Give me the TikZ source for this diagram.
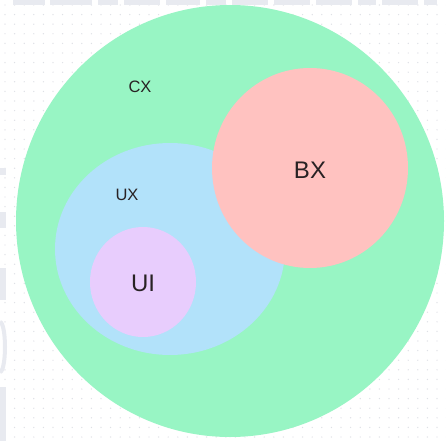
\documentclass[tikz,border=0pt]{standalone}
\usepackage{fontspec}
\setmainfont{Liberation Sans}
\usetikzlibrary{shapes.geometric}
\definecolor{cxfill}{RGB}{152,245,196}
\definecolor{uxfill}{RGB}{178,226,250}
\definecolor{bxfill}{RGB}{255,194,192}
\definecolor{uifill}{RGB}{232,205,253}
\definecolor{labelink}{RGB}{40,34,36}
\definecolor{griddot}{RGB}{222,224,230}
\definecolor{ghost}{RGB}{232,234,240}
\tikzset{
  area/.style={ellipse, draw=none, inner sep=0pt},
  smalllabel/.style={text=labelink, font=\fontsize{16.5}{19}\selectfont, inner sep=0pt},
  biglabel/.style={text=labelink, font=\fontsize{24}{28}\selectfont, inner sep=0pt},
}
\begin{document}
\begin{tikzpicture}[x=1pt,y=-1pt]
  \useasboundingbox (0,0) rectangle (446,441);
  \fill[white] (0,0) rectangle (446,441);
  % dotted canvas
  \foreach \i in {0,...,46} {
    \foreach \j in {0,...,46} {
      \fill[griddot] (5+\i*9.6, 5+\j*9.6) circle (0.7);
    }
  }
  % faint lettering cut off at the edges
  \foreach \a/\b in {13/45, 50/92, 98/118, 124/160, 166/200, 206/226, 232/268, 274/310, 316/352, 358/376, 382/418, 424/437} {
    \fill[ghost] (\a,0) rectangle (\b,5);
  }
  \fill[ghost] (0,168) rectangle (6,175);
  \fill[ghost] (0,212) rectangle (6,228);
  \fill[ghost] (0,268) rectangle (6,300);
  \draw[ghost, line width=4] (0,322) arc[start angle=90, end angle=-90, x radius=5, y radius=-25];
  \fill[ghost] (0,387) rectangle (6,441);
  % nested areas
  \node[area, fill=cxfill, minimum width=428, minimum height=432] (cx) at (230,221) {};
  \node[area, fill=uxfill, minimum width=230, minimum height=212] (ux) at (170,249) {};
  \node[area, fill=bxfill, minimum width=196, minimum height=200] (bx) at (310,168) {};
  \node[area, fill=uifill, minimum width=106, minimum height=110] (ui) at (143,282) {};
  % labels
  \node[smalllabel] (cxlabel) at (140,87) {CX};
  \node[smalllabel] (uxlabel) at (127,195) {UX};
  \node[biglabel] (bxlabel) at (310,170) {BX};
  \node[biglabel] (uilabel) at (143,283) {UI};
\end{tikzpicture}
\end{document}
